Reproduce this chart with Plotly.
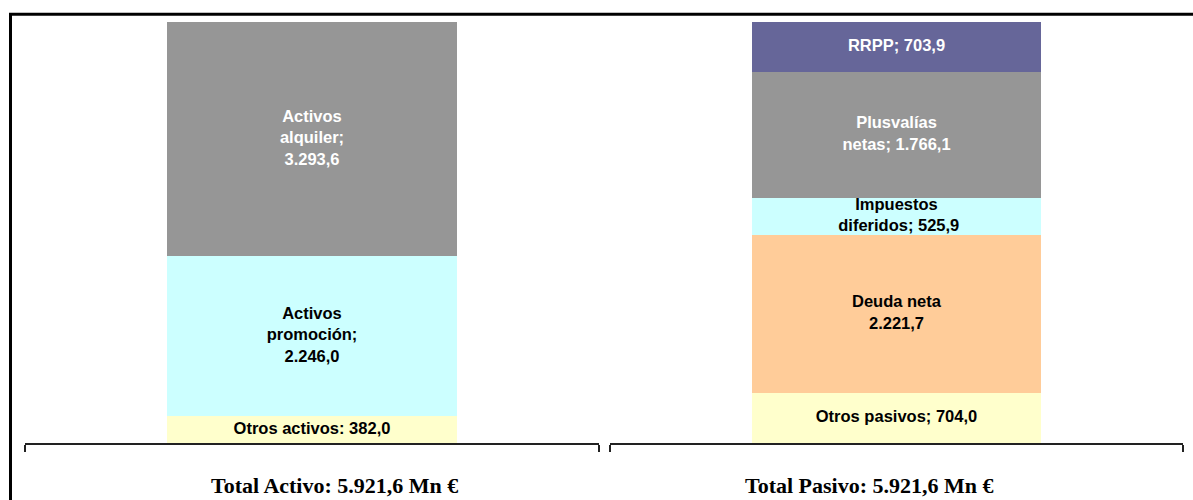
import numpy as np
import plotly.graph_objects as go

# Balance sheet composition (Mn €)
activo_names = ["Otros activos", "Activos promoción", "Activos alquiler"]
activo_values = [382.0, 2246.0, 3293.6]
activo_labels = ["Otros activos: ", "Activos<br>promoción;<br>", "Activos<br>alquiler;<br>"]
activo_colors = ["#FFFFCC", "#CCFFFF", "#969696"]
activo_text_colors = ["#000000", "#000000", "#FFFFFF"]

pasivo_names = ["Otros pasivos", "Deuda neta", "Impuestos diferidos", "Plusvalías netas", "RRPP"]
pasivo_values = [704.0, 2221.7, 525.9, 1766.1, 703.9]
pasivo_labels = ["Otros pasivos; ", "Deuda neta<br>", "Impuestos<br> diferidos; ", "Plusvalías<br>netas; ", "RRPP; "]
pasivo_colors = ["#FFFFCC", "#FFCC99", "#CCFFFF", "#969696", "#666699"]
pasivo_text_colors = ["#000000", "#000000", "#000000", "#FFFFFF", "#FFFFFF"]


def es_num(v):
    s = f"{v:,.1f}"
    return s.replace(",", "X").replace(".", ",").replace("X", ".")


activo_cat = f"Total Activo: {es_num(sum(activo_values))} Mn €"
pasivo_cat = f"Total Pasivo: {es_num(sum(pasivo_values))} Mn €"

W, H = 1193, 500
fig = go.Figure()

LABEL_FONT = "Arial, Liberation Sans, sans-serif"
TITLE_FONT = "Times New Roman, Liberation Serif, serif"
BAR_W = 0.504


def add_stack(cat, names, values, labels, colors, tcolors, xa, ya):
    vals = np.array(values)
    mids = np.cumsum(vals) - vals / 2
    for n, v, c in zip(names, values, colors):
        fig.add_trace(go.Bar(
            x=[cat], y=[v], name=n, marker=dict(color=c, line=dict(width=0)),
            width=BAR_W, xaxis=xa, yaxis=ya, showlegend=False, hoverinfo="name+y",
        ))
    texts = [f"<b>{lab}{es_num(v)}</b>" for lab, v in zip(labels, values)]
    fig.add_trace(go.Scatter(
        x=[cat] * len(values), y=mids, mode="text", text=texts,
        textposition="middle center",
        textfont=dict(family=LABEL_FONT, size=16.5, color=tcolors),
        xaxis=xa, yaxis=ya, showlegend=False, hoverinfo="skip",
    ))


add_stack(activo_cat, activo_names, activo_values, activo_labels,
          activo_colors, activo_text_colors, "x", "y")
add_stack(pasivo_cat, pasivo_names, pasivo_values, pasivo_labels,
          pasivo_colors, pasivo_text_colors, "x2", "y2")

xaxis_common = dict(
    type="category", range=[-0.5, 0.5], tickson="boundaries",
    ticks="outside", ticklen=7, tickwidth=2, tickcolor="#222222",
    showline=True, linecolor="#222222", linewidth=2,
    showgrid=False, zeroline=False, fixedrange=True,
    showticklabels=False,
)
yaxis_common = dict(range=[0, sum(activo_values)], visible=False, fixedrange=True)

# Category captions under each axis
captions = [
    dict(text=f"<b>{activo_cat}</b>", x=334 / W),
    dict(text=f"<b>{pasivo_cat}</b>", x=869 / W),
]
annotations = [
    dict(text=c["text"], x=c["x"], y=1 - 499 / H, xref="paper", yref="paper",
         xanchor="center", yanchor="bottom", showarrow=False, borderpad=0,
         font=dict(family=TITLE_FONT, size=22, color="#000000"))
    for c in captions
]

fig.update_layout(
    width=W, height=H, margin=dict(l=0, r=0, t=0, b=0),
    paper_bgcolor="white", plot_bgcolor="white",
    barmode="stack",
    xaxis=dict(domain=[25 / W, 599 / W], anchor="y", **xaxis_common),
    xaxis2=dict(domain=[610 / W, 1183 / W], anchor="y2", **xaxis_common),
    yaxis=dict(domain=[1 - 443 / H, 1 - 22 / H], anchor="x", **yaxis_common),
    yaxis2=dict(domain=[1 - 443 / H, 1 - 22 / H], anchor="x2", **yaxis_common),
    annotations=annotations,
    shapes=[dict(
        type="path", xref="paper", yref="paper",
        path=f"M {10.5 / W} -0.1 L {10.5 / W} {1 - 14.3 / H} L 1.1 {1 - 14.3 / H}",
        line=dict(color="#000000", width=3),
    )],
)

fig.write_html("out.html")
